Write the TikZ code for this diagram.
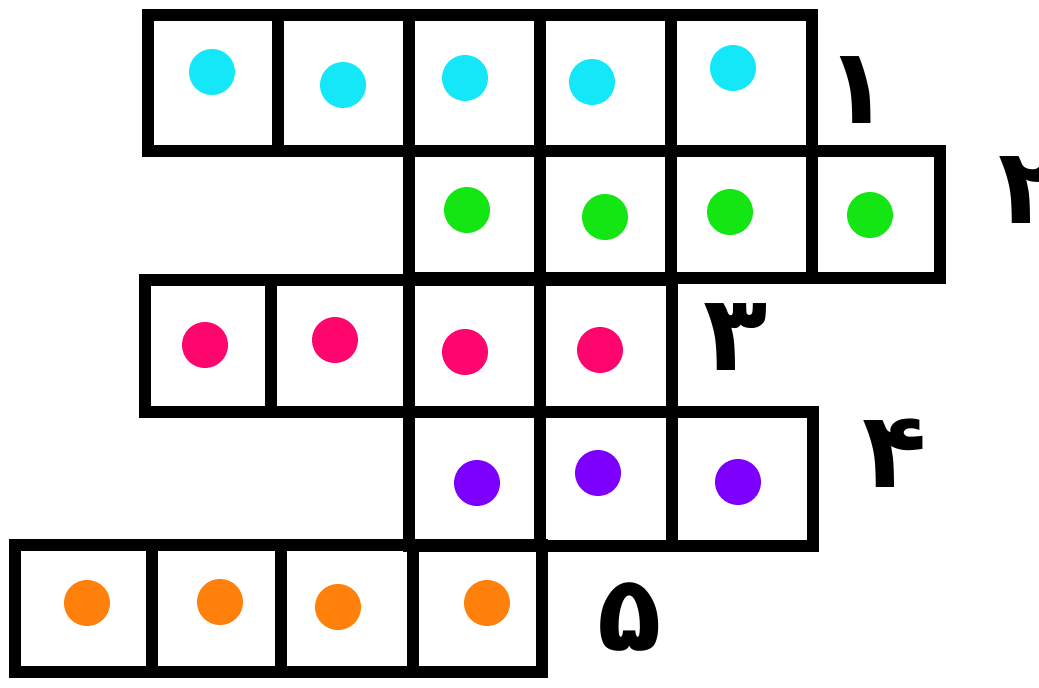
\documentclass[tikz,border=0pt]{standalone}
\usepackage{fontspec}
\newfontfamily\persianfont[Script=Arabic]{DejaVu Sans}
\usetikzlibrary{fit}
\TeXXeTstate=1
\definecolor{dcyan}{RGB}{20,232,248}
\definecolor{dgreen}{RGB}{20,230,20}
\definecolor{dpink}{RGB}{255,5,110}
\definecolor{dpurple}{RGB}{125,0,255}
\definecolor{dorange}{RGB}{255,128,10}
\tikzset{
  cell/.style={draw=black, line width=3.4pt, inner sep=0pt, rectangle},
  dot/.style={circle, inner sep=0pt, minimum size=0.46cm},
  numlabel/.style={inner sep=0pt, font=\persianfont\bfseries\fontsize{30}{30}\selectfont}
}
\begin{document}
\begin{tikzpicture}[x=0.01cm, y=-0.01cm]
\useasboundingbox (0,0) rectangle (1039,688);
% row 1
\node[cell, fit={(148,15) (278,151)}] (c11) {};
\node[cell, fit={(278,15) (409,151)}] (c12) {};
\node[cell, fit={(409,15) (540,151)}] (c13) {};
\node[cell, fit={(540,15) (671,151)}] (c14) {};
\node[cell, fit={(671,15) (812,151)}] (c15) {};
\node[dot, fill=dcyan] (d11) at (212,72) {};
\node[dot, fill=dcyan] (d12) at (343,85) {};
\node[dot, fill=dcyan] (d13) at (465,78) {};
\node[dot, fill=dcyan] (d14) at (592,82) {};
\node[dot, fill=dcyan] (d15) at (733,68) {};
\node[numlabel] (n1) at (858,90) {\beginR ۱\endR};
% row 2
\node[cell, fit={(409,151) (540,278)}] (c21) {};
\node[cell, fit={(540,151) (671,278)}] (c22) {};
\node[cell, fit={(671,151) (812,278)}] (c23) {};
\node[cell, fit={(812,151) (940,278)}] (c24) {};
\node[dot, fill=dgreen] (d21) at (467,210) {};
\node[dot, fill=dgreen] (d22) at (605,217) {};
\node[dot, fill=dgreen] (d23) at (730,212) {};
\node[dot, fill=dgreen] (d24) at (870,215) {};
\node[numlabel, anchor=west] (n2) at (998,190) {\beginR ۲\endR};
% row 3
\node[cell, fit={(145,280) (271,412)}] (c31) {};
\node[cell, fit={(271,280) (409,412)}] (c32) {};
\node[cell, fit={(409,280) (540,412)}] (c33) {};
\node[cell, fit={(540,280) (672,412)}] (c34) {};
\node[dot, fill=dpink] (d31) at (205,345) {};
\node[dot, fill=dpink] (d32) at (335,340) {};
\node[dot, fill=dpink] (d33) at (465,352) {};
\node[dot, fill=dpink] (d34) at (600,350) {};
\node[numlabel] (n3) at (736,337) {\beginR ۳\endR};
% row 4
\node[cell, fit={(409,412) (540,546)}] (c41) {};
\node[cell, fit={(540,412) (672,546)}] (c42) {};
\node[cell, fit={(672,412) (813,546)}] (c43) {};
\node[dot, fill=dpurple] (d41) at (477,483) {};
\node[dot, fill=dpurple] (d42) at (598,473) {};
\node[dot, fill=dpurple] (d43) at (738,482) {};
\node[numlabel] (n4) at (895,453) {\beginR ۴\endR};
% row 5
\node[cell, fit={(15,545) (152,672)}] (c51) {};
\node[cell, fit={(152,545) (281,672)}] (c52) {};
\node[cell, fit={(281,545) (413,672)}] (c53) {};
\node[cell, fit={(413,545) (542,672)}] (c54) {};
\node[dot, fill=dorange] (d51) at (87,603) {};
\node[dot, fill=dorange] (d52) at (220,602) {};
\node[dot, fill=dorange] (d53) at (338,607) {};
\node[dot, fill=dorange] (d54) at (487,603) {};
\node[numlabel] (n5) at (630,617) {\beginR ۵\endR};
\end{tikzpicture}
\end{document}
